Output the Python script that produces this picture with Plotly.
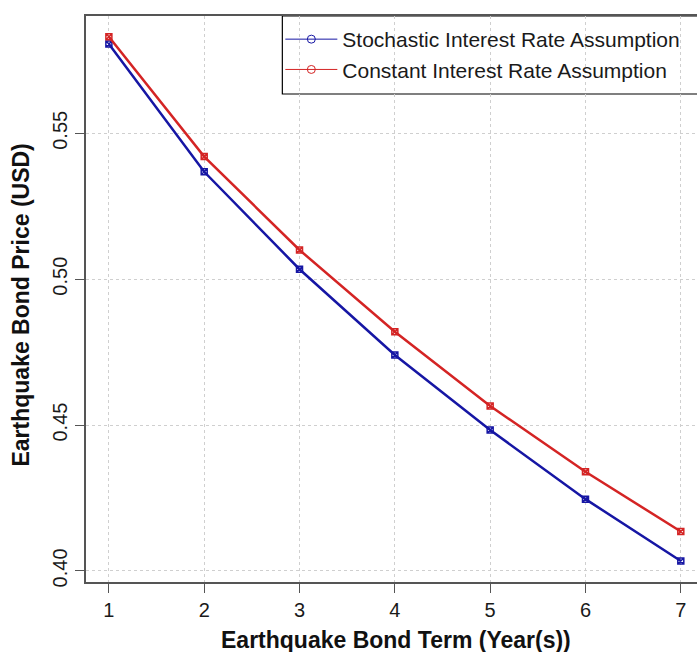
import plotly.graph_objects as go

years = [1, 2, 3, 4, 5, 6, 7]
stochastic = [0.5806, 0.5368, 0.5034, 0.4740, 0.4483, 0.4246, 0.4034]
constant = [0.5831, 0.5420, 0.5100, 0.4820, 0.4565, 0.4340, 0.4135]
x_ticks = [1, 2, 3, 4, 5, 6, 7]
y_ticks = [0.40, 0.45, 0.50, 0.55]
y_tick_labels = ["0.40", "0.45", "0.50", "0.55"]
names = ["Stochastic Interest Rate Assumption", "Constant Interest Rate Assumption"]
x_title = "Earthquake Bond Term (Year(s))"
y_title = "Earthquake Bond Price (USD)"

BLUE = "#1616A4"
RED = "#D42424"
FONT = "Liberation Sans, Arial, sans-serif"

W, H = 697, 652
L, T, B, R = 85.5, 16, 70, 0

fig = go.Figure()
for vals, col in [(stochastic, BLUE), (constant, RED)]:
    fig.add_trace(go.Scatter(
        x=years, y=vals, mode="lines+markers",
        line=dict(color=col, width=2.5),
        marker=dict(symbol="square-x-open", size=6, color=col, line=dict(width=1.5, color=col)),
        showlegend=False, hoverinfo="x+y"))

for nm, col in zip(names, [BLUE, RED]):
    fig.add_trace(go.Scatter(
        x=[None], y=[None], mode="lines+markers", name=nm,
        line=dict(color=col, width=1),
        marker=dict(symbol="circle-open", size=8, color=col, line=dict(width=1, color=col)),
        showlegend=True))

plot_w = W - L - R
plot_h = H - T - B
px_per_unit = 95.4
x0 = 0.76
x1 = x0 + plot_w / px_per_unit

def px_x(p):
    return (p - L) / plot_w

def px_y(p):
    return 1 - (p - T) / plot_h

fig.update_layout(
    width=W, height=H,
    margin=dict(l=L, r=R, t=T, b=B, pad=0, autoexpand=False),
    paper_bgcolor="white", plot_bgcolor="white",
    font=dict(family=FONT, size=20, color="#1a1a1a"),
    xaxis=dict(
        range=[x0, x1], tickvals=x_ticks, ticktext=[str(v) for v in x_ticks],
        showgrid=True, gridcolor="#cfcfcf", griddash="dot", gridwidth=1,
        showline=True, linecolor="#555555", linewidth=1.5, mirror=True,
        ticks="outside", ticklen=9, tickcolor="#555555", tickwidth=1.2,
        zeroline=False, tickfont=dict(size=20), automargin=False,
    ),
    yaxis=dict(
        range=[0.3962, 0.5902], tickvals=y_ticks, ticktext=y_tick_labels,
        tickangle=-90,
        showgrid=True, gridcolor="#cfcfcf", griddash="dot", gridwidth=1,
        showline=True, linecolor="#555555", linewidth=1.5, mirror=False,
        ticks="outside", ticklen=9, tickcolor="#555555", tickwidth=1.2,
        zeroline=False, tickfont=dict(size=20), automargin=False,
    ),
    legend=dict(
        x=px_x(280), y=px_y(19), xanchor="left", yanchor="top",
        bgcolor="rgba(255,255,255,0)", borderwidth=0,
        font=dict(size=21, color="#1a1a1a"), itemwidth=52,
        tracegroupgap=0,
    ),
    shapes=[dict(type="rect", xref="paper", yref="paper",
                 x0=px_x(282), x1=px_x(720), y0=px_y(94), y1=1,
                 line=dict(color="black", width=1.2), fillcolor="white", layer="below")],
    annotations=[
        dict(text="<b>" + x_title + "</b>", xref="paper", yref="paper",
             x=px_x(396), y=px_y(640), xanchor="center", yanchor="middle",
             showarrow=False, font=dict(size=23, color="#111111")),
        dict(text="<b>" + y_title + "</b>", xref="paper", yref="paper",
             x=px_x(20), y=px_y(305), xanchor="center", yanchor="middle",
             textangle=-90, showarrow=False, font=dict(size=23, color="#111111")),
    ],
)

fig.write_html("out.html", config={"displayModeBar": False})

with open("out.html", "r", encoding="utf-8") as f:
    html = f.read()
html = html.replace("<body>", '<body style="margin:0;padding:0;overflow:hidden">', 1)
with open("out.html", "w", encoding="utf-8") as f:
    f.write(html)
